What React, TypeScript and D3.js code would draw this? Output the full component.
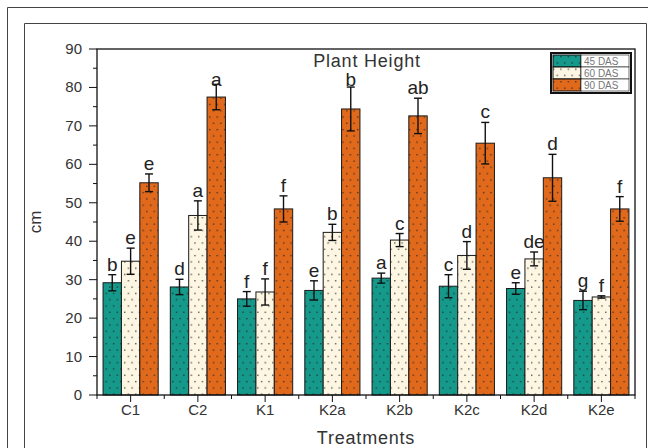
import React, { useEffect, useRef } from 'react';
import * as d3 from 'd3';

const categories = ['C1', 'C2', 'K1', 'K2a', 'K2b', 'K2c', 'K2d', 'K2e'];
const seriesNames = ['45 DAS', '60 DAS', '90 DAS'];
const das45 = [29.2, 28.1, 25.0, 27.2, 30.4, 28.3, 27.7, 24.6];
const das60 = [34.8, 46.7, 26.8, 42.3, 40.3, 36.3, 35.4, 25.5];
const das90 = [55.2, 77.5, 48.4, 74.4, 72.6, 65.5, 56.5, 48.4];
const err45 = [2.1, 2.0, 1.9, 2.5, 1.3, 3.0, 1.5, 2.4];
const err60 = [3.4, 3.8, 3.4, 2.1, 1.7, 3.6, 1.8, 0.3];
const err90 = [2.3, 3.3, 3.4, 5.7, 4.6, 5.4, 6.1, 3.2];
const letters45 = ['b', 'd', 'f', 'e', 'a', 'c', 'e', 'g'];
const letters60 = ['e', 'a', 'f', 'b', 'c', 'd', 'de', 'f'];
const letters90 = ['e', 'a', 'f', 'b', 'ab', 'c', 'd', 'f'];
const yTicks = [0, 10, 20, 30, 40, 50, 60, 70, 80, 90];

const colors = ['#14998a', '#fdf6e2', '#e0691c'];
const FONT = '"Liberation Sans", Arial, sans-serif';

export default function App() {
  const ref = useRef<SVGSVGElement>(null);

  useEffect(() => {
    const svg = d3.select(ref.current);
    svg.selectAll('*').remove();

    const left = 97, right = 635, top = 49, bottom = 395;

    // image frames
    svg.append('path')
      .attr('d', 'M7.5,448 V7.5 H648')
      .attr('fill', 'none').attr('stroke', '#444');
    svg.append('path')
      .attr('d', 'M24.5,448 V23.5 H646.5 V448')
      .attr('fill', 'none').attr('stroke', '#444');

    // dot patterns
    const defs = svg.append('defs');
    colors.forEach((c, i) => {
      const p = defs.append('pattern')
        .attr('id', 'dots' + i)
        .attr('patternUnits', 'userSpaceOnUse')
        .attr('width', 7.4).attr('height', 12.6);
      p.append('rect').attr('width', 7.4).attr('height', 12.6).attr('fill', c);
      p.append('rect').attr('x', 2).attr('y', 3).attr('width', 1.2).attr('height', 1.2).attr('fill', '#222');
      p.append('rect').attr('x', 5.7).attr('y', 9.3).attr('width', 1.2).attr('height', 1.2).attr('fill', '#222');
    });

    const y = d3.scaleLinear().domain([0, 90]).range([bottom, top]);
    const x0 = d3.scaleBand().domain(categories).range([left, right])
      .paddingInner(0.18).paddingOuter(0.09);
    const x1 = d3.scaleBand().domain(seriesNames).range([0, x0.bandwidth()]);

    const series = [
      { name: seriesNames[0], vals: das45, errs: err45, labs: letters45 },
      { name: seriesNames[1], vals: das60, errs: err60, labs: letters60 },
      { name: seriesNames[2], vals: das90, errs: err90, labs: letters90 },
    ];

    series.forEach((s, si) => {
      const g = svg.append('g');
      g.selectAll('rect')
        .data(categories)
        .enter()
        .append('rect')
        .attr('x', d => x0(d)! + x1(s.name)!)
        .attr('y', (d, i) => y(s.vals[i]))
        .attr('width', x1.bandwidth())
        .attr('height', (d, i) => bottom - y(s.vals[i]))
        .attr('fill', `url(#dots${si})`)
        .attr('stroke', '#1a1a1a')
        .attr('stroke-width', 1);

      // error bars + significance letters
      categories.forEach((c, i) => {
        const cx = x0(c)! + x1(s.name)! + x1.bandwidth() / 2;
        const hi = y(s.vals[i] + s.errs[i]);
        const lo = y(s.vals[i] - s.errs[i]);
        g.append('line').attr('x1', cx).attr('x2', cx).attr('y1', hi).attr('y2', lo)
          .attr('stroke', '#111').attr('stroke-width', 1.4);
        [hi, lo].forEach(yy => {
          g.append('line').attr('x1', cx - 4).attr('x2', cx + 4).attr('y1', yy).attr('y2', yy)
            .attr('stroke', '#111').attr('stroke-width', 1.4);
        });
        g.append('text')
          .attr('x', cx)
          .attr('y', Math.max(hi - 4, 86))
          .attr('text-anchor', 'middle')
          .attr('font-family', FONT)
          .attr('font-size', 19)
          .attr('fill', '#222')
          .text(s.labs[i]);
      });
    });

    // plot frame
    svg.append('rect')
      .attr('x', left).attr('y', top)
      .attr('width', right - left).attr('height', bottom - top)
      .attr('fill', 'none').attr('stroke', '#111').attr('stroke-width', 1.3);

    // y ticks
    svg.selectAll('ytick')
      .data(d3.range(0, 91, 5))
      .enter()
      .append('line')
      .attr('x1', d => left - (d % 10 === 0 ? 8 : 4))
      .attr('x2', left)
      .attr('y1', d => y(d)).attr('y2', d => y(d))
      .attr('stroke', '#111');
    svg.selectAll('ylab')
      .data(yTicks)
      .enter()
      .append('text')
      .attr('x', left - 15)
      .attr('y', d => y(d) + 5)
      .attr('text-anchor', 'end')
      .attr('font-family', FONT)
      .attr('font-size', 15)
      .attr('fill', '#333')
      .text(d => d);

    // x ticks
    svg.selectAll('xtick')
      .data(categories)
      .enter()
      .append('line')
      .attr('x1', d => x0(d)! + x0.bandwidth() / 2)
      .attr('x2', d => x0(d)! + x0.bandwidth() / 2)
      .attr('y1', bottom).attr('y2', bottom + 7)
      .attr('stroke', '#111');
    svg.selectAll('xminor')
      .data(d3.range(0, categories.length + 1))
      .enter()
      .append('line')
      .attr('x1', i => left + i * x0.step())
      .attr('x2', i => left + i * x0.step())
      .attr('y1', bottom).attr('y2', bottom + 4)
      .attr('stroke', '#111');
    svg.selectAll('xlab')
      .data(categories)
      .enter()
      .append('text')
      .attr('x', d => x0(d)! + x0.bandwidth() / 2)
      .attr('y', bottom + 20)
      .attr('text-anchor', 'middle')
      .attr('font-family', FONT)
      .attr('font-size', 15)
      .attr('fill', '#333')
      .text(d => d);

    // axis titles
    svg.append('text')
      .attr('x', (left + right) / 2)
      .attr('y', 444)
      .attr('text-anchor', 'middle')
      .attr('font-family', FONT)
      .attr('font-size', 18)
      .attr('letter-spacing', 0.8)
      .attr('fill', '#333')
      .text('Treatments');
    svg.append('text')
      .attr('transform', `translate(41,${(top + bottom) / 2}) rotate(-90)`)
      .attr('text-anchor', 'middle')
      .attr('font-family', FONT)
      .attr('font-size', 17)
      .attr('fill', '#333')
      .text('cm');
    svg.append('text')
      .attr('x', 367)
      .attr('y', 67)
      .attr('text-anchor', 'middle')
      .attr('font-family', FONT)
      .attr('font-size', 18)
      .attr('letter-spacing', 0.8)
      .attr('fill', '#333')
      .text('Plant Height');

    // legend
    const lg = svg.append('g').attr('transform', 'translate(551,53)');
    lg.append('rect').attr('width', 80).attr('height', 40)
      .attr('fill', '#fff').attr('stroke', '#111').attr('stroke-width', 2);
    seriesNames.forEach((n, i) => {
      lg.append('rect')
        .attr('x', 2).attr('y', 2 + i * 12)
        .attr('width', 28).attr('height', 12)
        .attr('fill', `url(#dots${i})`)
        .attr('stroke', '#111');
      lg.append('rect')
        .attr('x', 30).attr('y', 2 + i * 12)
        .attr('width', 48).attr('height', 12)
        .attr('fill', '#fff')
        .attr('stroke', '#111').attr('stroke-width', 0.6);
      lg.append('text')
        .attr('x', 33).attr('y', 11.5 + i * 12)
        .attr('font-family', FONT)
        .attr('font-size', 10)
        .attr('fill', '#777')
        .text(n);
    });
  }, []);

  return (
    <svg ref={ref} width={648} height={448}
      style={{ position: 'absolute', left: 0, top: 0, background: '#fff' }} />
  );
}
